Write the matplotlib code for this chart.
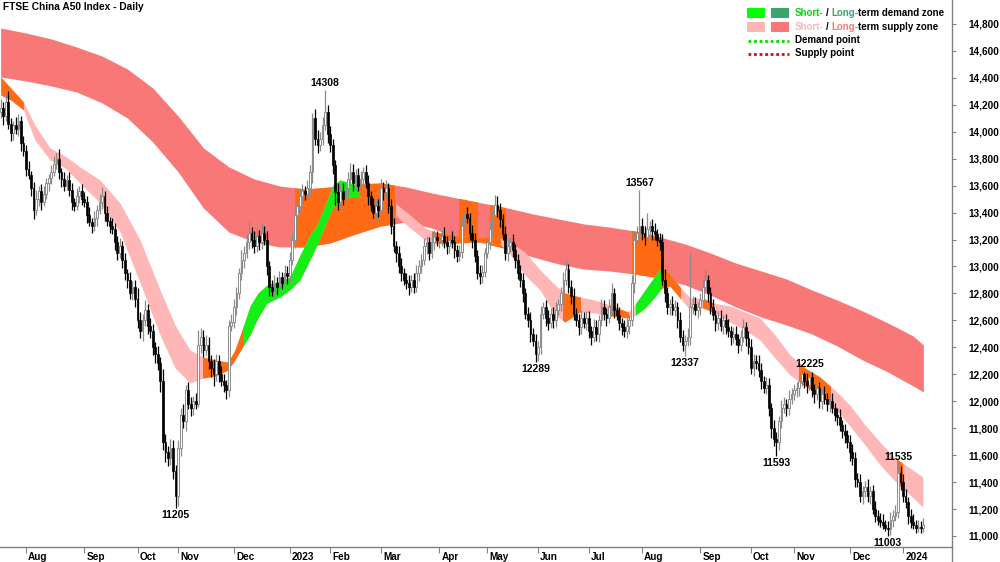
import matplotlib
matplotlib.use("Agg")
import matplotlib.pyplot as plt
import numpy as np
import pandas as pd
from matplotlib.lines import Line2D
from matplotlib.patches import Rectangle
from matplotlib.transforms import IdentityTransform, ScaledTranslation, blended_transform_factory

plt.rcParams["font.family"] = ["Liberation Sans", "DejaVu Sans"]
plt.rcParams["font.weight"] = "bold"

# ---------------------------------------------------------------- data
START, END = "2022-07-18", "2024-01-12"
HOLIDAYS = [
    "2022-09-12", "2022-10-03", "2022-10-04", "2022-10-05", "2022-10-06", "2022-10-07",
    "2023-01-02", "2023-01-23", "2023-01-24", "2023-01-25", "2023-01-26", "2023-01-27",
    "2023-04-05", "2023-05-01", "2023-05-02", "2023-05-03", "2023-06-22", "2023-06-23",
    "2023-09-29", "2023-10-02", "2023-10-03", "2023-10-04", "2023-10-05", "2023-10-06",
    "2024-01-01",
]

first_open = 14150
close = [
    14180, 14120, 14220, 14060, 13990, 14050, 14020, 14080, 13920, 13860,  # jul 22
    13720, 13680, 13580, 13420, 13500, 13560, 13480, 13540, 13620, 13660, 13700, 13760,
    13800, 13700, 13650, 13600, 13640, 13570, 13480, 13450, 13520, 13560, 13500,  # aug
    13480, 13380, 13330, 13300, 13360, 13420, 13480, 13520, 13400, 13340, 13300,
    13280, 13180, 13100, 13150, 13050, 12950, 12900, 12800, 12850, 12760,  # sep
    12600, 12520, 12600, 12680, 12560, 12520, 12400, 12350, 12280, 12150, 11700,
    11620, 11580, 11650, 11480, 11300,  # oct
    11650, 11900, 11850, 12080, 11980, 11950, 12000, 11980, 12420, 12480, 12380,
    12420, 12300, 12250, 12200, 12300, 12200, 12150, 12120, 12080, 12560, 12590,  # nov
    12700, 12800, 12950, 13050, 13100, 13180, 13250, 13200, 13150, 13230, 13180,
    13250, 13200, 13000, 12850, 12820, 12880, 12850, 12920, 12880, 12950, 12930,  # dec
    13050, 13200, 13380, 13450, 13520, 13560, 13540, 13580, 13700, 14100, 13950,
    13900, 13950, 14050, 14150, 13980,  # jan 23
    13900, 13750, 13550, 13480, 13560, 13500, 13580, 13650, 13700, 13620, 13680,
    13600, 13650, 13700, 13620, 13520, 13460, 13400, 13450, 13420,  # feb
    13580, 13550, 13580, 13450, 13300, 13150, 13100, 13000, 12950, 12900, 12880, 12850,
    12900, 12850, 12950, 13000, 13050, 13150, 13180, 13100, 13180, 13220, 13200,  # mar
    13200, 13230, 13180, 13150, 13200, 13180, 13120, 13080, 13110, 13300, 13390,
    13360, 13250, 13200, 13080, 12950, 12930, 12960, 13100,  # apr
    13180, 13280, 13380, 13460, 13420, 13350, 13240, 13100, 13150, 13180, 13120,
    13050, 12950, 12900, 12800, 12650, 12600, 12500, 12450, 12350,  # may
    12400, 12650, 12700, 12620, 12580, 12650, 12600, 12680, 12720, 12800, 12900,
    12980, 12850, 12780, 12650, 12600, 12550, 12620, 12580, 12620,  # jun
    12520, 12480, 12550, 12500, 12600, 12700, 12650, 12620, 12700, 12800, 12680,
    12640, 12580, 12550, 12520, 12560, 12600, 12880, 13200, 13250, 13300,  # jul
    13250, 13220, 13280, 13300, 13260, 13240, 13200, 13180, 12900, 12800, 12700, 12720,
    12680, 12700, 12600, 12480, 12420, 12450, 12480, 12700, 12720, 12680, 12700,  # aug
    12750, 12850, 12900, 12800, 12700, 12640, 12580, 12620, 12560, 12600, 12550,
    12520, 12480, 12500, 12460, 12420, 12480, 12550, 12470, 12400,  # sep
    12250, 12300, 12280, 12230, 12150, 12100, 12120, 11950, 11800, 11720, 11700,
    11850, 11950, 11980, 11950, 12020, 12050,  # oct
    12080, 12100, 12150, 12200, 12150, 12120, 12180, 12080, 12050, 12100, 12000,
    12050, 12020, 11980, 12000, 11950, 11900, 11880, 11820, 11780, 11750, 11700,  # nov
    11620, 11580, 11420, 11400, 11300, 11330, 11360, 11300, 11330, 11200, 11150,
    11120, 11100, 11080, 11060, 11050, 11120, 11150, 11180, 11470, 11400,  # dec
    11300, 11250, 11150, 11100, 11080, 11060, 11070, 11060, 11080,  # jan 24
]

# wick lengths (index points) above / below the candle body
wick_hi = [
    60, 40, 50, 80, 40, 30, 60, 50, 40, 50,
    40, 60, 30, 50, 70, 40, 50, 60, 40, 30, 50, 60, 40, 70, 30, 50, 40, 60, 50, 30, 60, 40, 50,
    50, 40, 60, 30, 50, 40, 60, 70, 40, 50, 30, 60, 40, 50, 60, 40, 50, 30, 60, 40, 50,
    80, 60, 50, 70, 40, 60, 50, 40, 60, 50, 90, 60, 50, 70, 60, 50,
    60, 50, 80, 40, 60, 50, 40, 60, 110, 60, 50, 70, 60, 40, 60, 50, 40, 60, 50, 40, 40, 60,
    60, 50, 40, 70, 50, 60, 80, 40, 60, 50, 40, 70, 50, 60, 40, 50, 60, 40, 50, 40, 60, 50,
    60, 50, 70, 40, 60, 50, 40, 60, 50, 40, 70, 60, 50, 60, 158, 50,
    60, 50, 40, 70, 50, 60, 40, 50, 70, 60, 40, 50, 60, 40, 50, 60, 40, 50, 60, 50,
    70, 50, 60, 40, 50, 60, 40, 50, 60, 40, 50, 60, 40, 50, 60, 50, 40, 60, 50, 40, 60, 50, 40,
    50, 40, 60, 50, 40, 60, 50, 40, 50, 60, 110, 50, 40, 60, 50, 40, 60, 50, 40,
    50, 60, 40, 70, 60, 50, 40, 60, 50, 40, 60, 50, 40, 60, 50, 40, 50, 60, 40, 50,
    50, 60, 40, 50, 60, 40, 50, 60, 40, 50, 60, 70, 40, 50, 60, 40, 50, 60, 40, 50,
    50, 40, 60, 50, 40, 60, 50, 40, 60, 80, 40, 50, 60, 40, 50, 60, 40, 60, 60, 50, 267,
    60, 50, 120, 40, 50, 60, 40, 50, 60, 80, 50, 40, 60, 50, 40, 60, 50, 40, 60, 400, 60, 50, 40,
    50, 60, 80, 40, 50, 60, 40, 50, 60, 40, 50, 60, 40, 50, 60, 40, 50, 60, 40, 50,
    60, 50, 40, 60, 50, 40, 60, 50, 40, 60, 50, 40, 60, 50, 40, 60, 50,
    50, 40, 60, 20, 15, 60, 45, 40, 50, 60, 40, 50, 60, 40, 50, 60, 40, 50, 60, 40, 50, 40,
    50, 60, 40, 50, 60, 40, 50, 60, 40, 50, 60, 40, 50, 60, 40, 50, 60, 40, 50, 65, 50,
    60, 50, 40, 50, 60, 40, 50, 40, 50,
]
wick_lo = [
    50, 70, 40, 40, 60, 50, 40, 50, 60, 40,
    50, 30, 60, 70, 40, 50, 60, 30, 40, 60, 50, 30, 40, 50, 60, 40, 30, 50, 60, 40, 30, 50, 40,
    40, 60, 30, 50, 40, 60, 30, 50, 60, 40, 50, 40, 60, 50, 40, 60, 50, 60, 40, 50, 60,
    60, 50, 70, 40, 60, 50, 60, 70, 50, 80, 60, 70, 60, 50, 60, 95,
    80, 60, 50, 70, 40, 60, 50, 40, 25, 60, 50, 40, 60, 70, 90, 50, 60, 40, 50, 60, 50, 40,
    50, 60, 40, 50, 60, 40, 50, 60, 50, 40, 60, 50, 40, 60, 70, 40, 50, 60, 40, 50, 40, 60,
    50, 40, 60, 50, 40, 60, 50, 40, 60, 80, 50, 60, 40, 50, 40, 60,
    50, 60, 90, 60, 50, 40, 60, 50, 40, 60, 50, 40, 60, 50, 40, 60, 50, 40, 60, 50,
    50, 60, 40, 50, 60, 40, 70, 50, 60, 40, 50, 60, 40, 50, 40, 60, 50, 40, 60, 50, 40, 60, 50,
    60, 50, 40, 60, 50, 40, 60, 50, 40, 50, 60, 40, 50, 60, 50, 40, 60, 50, 40,
    40, 50, 60, 40, 50, 60, 40, 50, 60, 40, 50, 60, 40, 50, 60, 40, 50, 60, 40, 61,
    50, 50, 40, 60, 50, 40, 60, 50, 40, 50, 60, 40, 50, 60, 50, 40, 60, 50, 40, 50,
    50, 60, 40, 50, 60, 40, 50, 60, 40, 50, 60, 40, 50, 60, 40, 50, 60, 40, 80, 60, 50,
    50, 60, 40, 50, 60, 40, 50, 60, 40, 60, 50, 60, 40, 50, 60, 40, 50, 83, 40, 60, 50, 40, 60,
    60, 50, 40, 60, 50, 40, 60, 50, 40, 60, 50, 40, 60, 50, 40, 60, 50, 40, 60, 50,
    50, 60, 40, 50, 60, 40, 50, 60, 70, 50, 107, 60, 50, 40, 60, 50, 40,
    40, 50, 60, 40, 50, 60, 40, 50, 60, 40, 50, 60, 40, 50, 60, 40, 50, 60, 40, 50, 60, 50,
    60, 50, 60, 40, 50, 60, 40, 50, 60, 40, 50, 40, 30, 30, 20, 47, 40, 50, 40, 50, 60,
    50, 40, 60, 40, 30, 40, 30, 40, 30,
]

# long-term zone (upper / lower edge), sampled on trading-day index
lt_idx = list(range(0, 361, 10)) + [364]
lt_top = [14770, 14733, 14689, 14629, 14562, 14466, 14325, 14117, 13880, 13739, 13650,
          13598, 13575, 13590, 13612, 13620, 13590, 13546, 13508, 13471, 13434, 13390,
          13353, 13316, 13293, 13264, 13219, 13167, 13100, 13026, 12967, 12907, 12826,
          12751, 12670, 12581, 12484, 12418]
lt_bot = [14407, 14377, 14340, 14295, 14214, 14102, 13924, 13702, 13434, 13256, 13182,
          13145, 13145, 13175, 13241, 13301, 13330, 13286, 13212, 13175, 13130, 13070,
          13019, 12981, 12967, 12944, 12915, 12863, 12788, 12700, 12625, 12566, 12499,
          12410, 12306, 12217, 12113, 12069]

# short-term zone
st_idx = [0, 4, 9, 13.5, 19.5, 25.4, 31.3, 39.2, 47.1, 55, 62.9, 68.8, 74.7, 79.8, 84.6,
          89.7, 92.4, 95.2, 98.4, 101.5, 105.1, 110.2, 114.1, 118.1, 122, 124.8, 128,
          131.1, 133.9, 137.8, 141.8, 145.7, 151.6, 155.6, 161.5, 167.4, 171.3, 177.3,
          181.2, 189.1, 197, 200.9, 206.8, 212.8, 218.7, 222.6, 228.5, 234.5, 240.4,
          247.5, 250.6, 254.2, 258.1, 260.9, 264, 268, 272, 277.1, 281, 287.7, 293.6,
          299.5, 305.5, 311.4, 317.3, 323.2, 329.1, 335, 341, 346.9, 352.8, 358.7, 363.8]
st_top = [14407, 14325, 14221, 14050, 13880, 13820, 13739, 13642, 13471, 13197, 12826,
          12566, 12380, 12328, 12306, 12291, 12380, 12529, 12707, 12803, 12863, 12892,
          12922, 13085, 13234, 13308, 13456, 13605, 13642, 13620, 13598, 13568, 13516,
          13471, 13382, 13286, 13256, 13241, 13226, 13219, 13212, 13182, 13108, 12974,
          12863, 12803, 12774, 12751, 12714, 12662, 12729, 12826, 12930, 12996, 12944,
          12848, 12766, 12766, 12729, 12707, 12662, 12618, 12492, 12343, 12247, 12180,
          12083, 11972, 11824, 11697, 11579, 11504, 11438]
st_bot = [14273, 14236, 14162, 13939, 13791, 13731, 13620, 13471, 13256, 12878, 12492,
          12247, 12135, 12172, 12187, 12232, 12306, 12395, 12492, 12618, 12729, 12774,
          12826, 12900, 13048, 13160, 13308, 13442, 13494, 13516, 13523, 13457, 13419,
          13382, 13286, 13197, 13175, 13167, 13175, 13182, 13167, 13093, 12937, 12826,
          12640, 12588, 12662, 12655, 12633, 12618, 12640, 12692, 12774, 12840, 12855,
          12766, 12677, 12692, 12662, 12588, 12529, 12455, 12321, 12195, 12113, 12046,
          11950, 11816, 11675, 11527, 11408, 11304, 11215]

# stretches where the zones change colour (trading-day index ranges)
st_demand_spans = [(95.2, 141.8), (250.6, 260.9)]
st_touch_spans = [(0, 9), (79.8, 95.2), (141.8, 155.6), (170, 197), (222, 228.5),
                  (240.4, 247.5), (260.9, 268), (277.1, 281), (315, 327), (353.5, 355.5)]
lt_touch_spans = [(116, 155), (181, 188), (193, 199), (249, 261)]

# turning points that carry a value label
label_idx = [69, 128, 211, 252, 270, 306, 319, 350, 354]
label_side = ["low", "high", "low", "high", "low", "low", "high", "low", "high"]

# ---------------------------------------------------------------- colours
RED = "#F87878"
PINK = "#FFB6B6"
ORANGE = "#FF6A14"
GREEN = "#14F014"
DKGREEN = "#3CA56E"
SPINE = "#808080"
UPEDGE = "#8C8C8C"

dates = pd.bdate_range(START, END, freq="C", holidays=HOLIDAYS)
assert len(dates) == len(close) == len(wick_hi) == len(wick_lo), (
    len(dates), len(close), len(wick_hi), len(wick_lo))

x = np.arange(len(close))
c = np.array(close, float)
o = np.r_[first_open, c[:-1]]
hi = np.maximum(o, c) + np.array(wick_hi)
lo = np.minimum(o, c) - np.array(wick_lo)
up = c >= o

W, H = 1000, 562
fig = plt.figure(figsize=(W / 100, H / 100), dpi=100)
ax = fig.add_axes([0, 15 / H, 952 / W, 547 / H])
ax.set_xlim(-0.26, 375.3)
ax.set_ylim(10918, 14978)


def zone(xs, bot, top, color, z, span=None):
    poly = ax.fill_between(xs, bot, top, color=color, lw=0, zorder=z)
    if span is not None:
        rect = Rectangle((span[0], 0), span[1] - span[0], 30000, transform=ax.transData)
        poly.set_clip_path(rect)


zone(lt_idx, lt_bot, lt_top, RED, 1)
for sp in lt_touch_spans:
    zone(lt_idx, lt_bot, lt_top, ORANGE, 1.1, sp)
zone(st_idx, st_bot, st_top, PINK, 1.5)
for sp in st_demand_spans:
    zone(st_idx, st_bot, st_top, GREEN, 1.6, sp)
for sp in st_touch_spans:
    zone(st_idx, st_bot, st_top, ORANGE, 1.6, sp)

# candles
ax.vlines(x[up], lo[up], hi[up], color=UPEDGE, lw=0.9, zorder=3)
ax.vlines(x[~up], lo[~up], hi[~up], color="black", lw=0.9, zorder=3)
ax.bar(x[up], (c - o)[up], bottom=o[up], width=0.7, facecolor="white",
       edgecolor=UPEDGE, lw=0.7, zorder=4)
ax.bar(x[~up], (o - c)[~up], bottom=c[~up], width=0.7, facecolor="black",
       edgecolor="black", lw=0.5, zorder=4)

for i, side in zip(label_idx, label_side):
    if side == "high":
        ax.annotate(f"{hi[i]:.0f}", (i, hi[i]), xytext=(0, 1.5), textcoords="offset points",
                    ha="center", va="bottom", fontsize=7.5, fontweight="bold", zorder=5)
    else:
        ax.annotate(f"{lo[i]:.0f}", (i, lo[i]), xytext=(0, -1.5), textcoords="offset points",
                    ha="center", va="top", fontsize=7.5, fontweight="bold", zorder=5)

# axes styling
for s in ["top", "left"]:
    ax.spines[s].set_visible(False)
for s in ["right", "bottom"]:
    ax.spines[s].set_color(SPINE)
    ax.spines[s].set_linewidth(1)

ax.yaxis.tick_right()
yt = np.arange(11000, 14801, 200)
ax.set_yticks(yt)
ax.set_yticklabels([f"{v:,}" for v in yt])
ax.tick_params(axis="y", direction="out", length=3, color=SPINE, pad=9, labelsize=7.2)

month = dates.to_period("M")
starts = np.flatnonzero(np.r_[True, month[1:] != month[:-1]])[1:]
ax.set_xticks(starts)
ax.tick_params(axis="x", direction="out", length=4, color=SPINE, labelbottom=False)
trans = blended_transform_factory(ax.transData, ax.transAxes) + \
    ScaledTranslation(1.5 / 72, -3.5 / 72, fig.dpi_scale_trans)
for p in starts:
    d = dates[p]
    lbl = str(d.year) if d.month == 1 else d.strftime("%b")
    ax.text(p, 0, lbl, transform=trans, ha="left", va="top", fontsize=7.2, fontweight="bold")

fig.add_artist(Line2D([952, 952], [0, 15], transform=IdentityTransform(), color=SPINE, lw=1))

# title
fig.text(3, H - 7, "FTSE China A50 Index - Daily", transform=IdentityTransform(),
         fontsize=7.3, fontweight="bold", va="center", ha="left")

# legend
renderer = fig.canvas.get_renderer()


def pieces(x0, y, parts):
    xx = x0
    for txt, col, gap in parts:
        t = fig.text(xx, H - y, txt, transform=IdentityTransform(), color=col,
                     fontsize=7.0, fontweight="bold", va="center", ha="left")
        xx += t.get_window_extent(renderer).width + gap


def swatch(x0, y, col):
    fig.add_artist(Rectangle((x0, H - y - 5), 18, 10, transform=IdentityTransform(),
                             facecolor=col, edgecolor="none"))


swatch(747, 13, "#00FF00")
swatch(771, 13, DKGREEN)
pieces(795, 13, [("Short-", "#00DD00", 2.5), ("/", "black", 2.5), ("Long-", DKGREEN, 0),
                 ("term demand zone", "black", 0)])
swatch(747, 27, PINK)
swatch(771, 27, RED)
pieces(795, 27, [("Short-", PINK, 2.5), ("/", "black", 2.5), ("Long-", RED, 0),
                 ("term supply zone", "black", 0)])
fig.add_artist(Line2D([748, 789], [H - 41, H - 41], transform=IdentityTransform(),
                      color="#00DD00", lw=2, linestyle=(0, (1, 1))))
pieces(795, 40, [("Demand point", "black", 0)])
fig.add_artist(Line2D([748, 789], [H - 54, H - 54], transform=IdentityTransform(),
                      color="#EE0000", lw=2, linestyle=(0, (1, 1))))
pieces(795, 53, [("Supply point", "black", 0)])

fig.savefig("out.png", dpi=100)
